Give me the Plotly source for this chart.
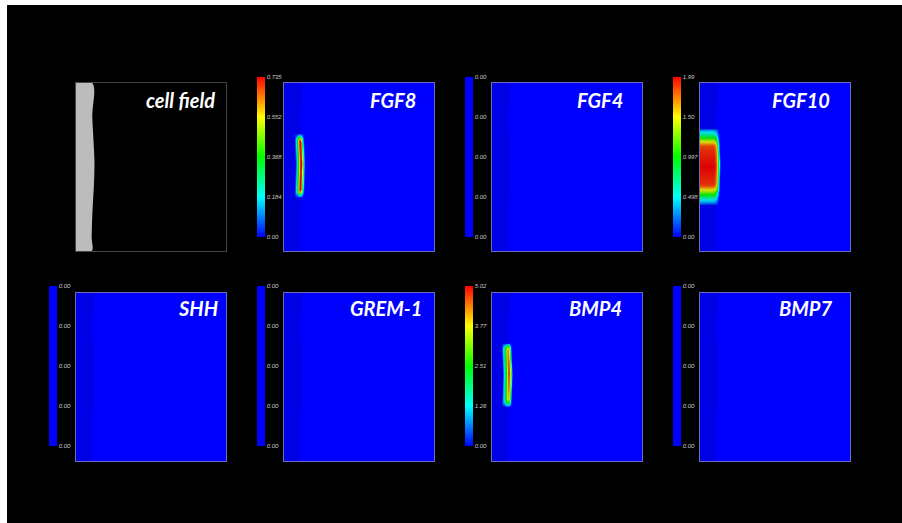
import numpy as np
import plotly.graph_objects as go

W, H = 902, 523
PW, PH = 150, 168  # data extent of each panel

# ---------------- data ----------------
panel_names = ["cell field", "FGF8", "FGF4", "FGF10", "SHH", "GREM-1", "BMP4", "BMP7"]

cb_labels = {
    "FGF8": ["0.00", "0.184", "0.368", "0.552", "0.735"],
    "FGF4": ["0.00", "0.00", "0.00", "0.00", "0.00"],
    "FGF10": ["0.00", "0.498", "0.997", "1.50", "1.99"],
    "SHH": ["0.00", "0.00", "0.00", "0.00", "0.00"],
    "GREM-1": ["0.00", "0.00", "0.00", "0.00", "0.00"],
    "BMP4": ["0.00", "1.26", "2.51", "3.77", "5.02"],
    "BMP7": ["0.00", "0.00", "0.00", "0.00", "0.00"],
}
cb_max = {"FGF8": 0.735, "FGF4": 0.0, "FGF10": 1.99, "SHH": 0.0,
          "GREM-1": 0.0, "BMP4": 5.02, "BMP7": 0.0}

# boundary of the cell region (x in panel units, y as fraction from top)
boundary_yfrac = [0.0, 0.2, 0.32, 0.48, 0.62, 0.76, 0.92, 1.0]
boundary_x = [16.3, 16.3, 17.3, 18.5, 17.8, 16.5, 15.7, 15.7]

# expression profiles: vertical (fraction from top -> relative level)
# and horizontal (depth inside boundary -> relative level)
fgf8_row_y = [0.30, 0.318, 0.333, 0.35, 0.50, 0.635, 0.652, 0.668, 0.685]
fgf8_row_v = [0.0, 0.3, 0.8, 1.0, 1.0, 1.0, 0.8, 0.3, 0.0]
fgf8_col_d = [-3, -2, -1, 0, 1, 2, 3, 4, 5, 6, 7]
fgf8_col_v = [0.0, 0.15, 0.4, 0.85, 1.0, 0.95, 0.7, 0.45, 0.3, 0.12, 0.0]

fgf10_row_y = [0.27, 0.286, 0.304, 0.327, 0.351, 0.375, 0.40, 0.50, 0.60, 0.613, 0.637, 0.667, 0.69, 0.714, 0.73]
fgf10_row_v = [0.0, 0.2, 0.3, 0.5, 0.75, 0.92, 0.95, 1.0, 0.95, 0.92, 0.75, 0.5, 0.3, 0.15, 0.0]
fgf10_col_d = [-2.5, -1.5, -0.5, 0.5, 1.5, 2.5, 4, 30]
fgf10_col_v = [0.0, 0.15, 0.4, 0.7, 0.88, 0.95, 1.0, 1.0]

bmp4_row_y = [0.30, 0.31, 0.325, 0.34, 0.40, 0.48, 0.55, 0.63, 0.65, 0.665, 0.68]
bmp4_row_v = [0.0, 0.3, 0.7, 0.85, 0.88, 0.95, 0.88, 0.8, 0.6, 0.35, 0.0]
bmp4_col_d = [-2.5, -1.5, -0.5, 0.5, 1.5, 2.5, 3.5, 4.5, 5.5, 6.5, 7.5]
bmp4_col_v = [0.0, 0.2, 0.7, 0.95, 1.0, 0.9, 0.6, 0.45, 0.35, 0.2, 0.0]

profiles = {
    "FGF8": (fgf8_row_y, fgf8_row_v, fgf8_col_d, fgf8_col_v),
    "FGF10": (fgf10_row_y, fgf10_row_v, fgf10_col_d, fgf10_col_v),
    "BMP4": (bmp4_row_y, bmp4_row_v, bmp4_col_d, bmp4_col_v),
}

# ---------------- layout geometry (pixels) ----------------
col_left = [76, 284, 492, 700]
row_top = [83, 293]
panel_w, panel_h = 150, 168
title_right_off = [9, 16, 17, 18, 6, 10, 18, 16]
title_y_off = [17, 17, 17, 17, 15, 15, 15, 15]

jet = [[0.0, "rgb(0,0,255)"], [0.25, "rgb(0,255,255)"], [0.5, "rgb(0,255,0)"],
       [0.75, "rgb(255,255,0)"], [1.0, "rgb(255,0,0)"]]
allblue = [[0.0, "rgb(0,0,255)"], [1.0, "rgb(0,0,255)"]]

fig = go.Figure()
layout = {}

xc = np.arange(PW) + 0.5
yc = np.arange(PH) + 0.5
bnd_rows = np.interp(yc / PH, boundary_yfrac, boundary_x)

poly_x = [0.0] + boundary_x + [0.0]
poly_y = [0.0] + [f * PH for f in boundary_yfrac] + [float(PH)]

for k, name in enumerate(panel_names):
    r, c = divmod(k, 4)
    left, top = col_left[c], row_top[r]
    ax = "" if k == 0 else str(k + 1)
    xa, ya = "x" + ax, "y" + ax
    x0, x1 = left / W, (left + panel_w) / W
    y1, y0 = 1 - top / H, 1 - (top + panel_h) / H
    border = "rgb(70,70,70)" if k == 0 else "rgba(120,120,200,0.9)"
    layout["xaxis" + ax] = dict(domain=[x0, x1], anchor=ya, range=[0, PW],
                                showticklabels=False, showgrid=False, zeroline=False,
                                showline=True, mirror=True, linecolor=border, linewidth=1,
                                ticks="", fixedrange=True)
    layout["yaxis" + ax] = dict(domain=[y0, y1], anchor=xa, range=[PH, 0],
                                showticklabels=False, showgrid=False, zeroline=False,
                                showline=True, mirror=True, linecolor=border, linewidth=1,
                                ticks="", fixedrange=True)

    if name == "cell field":
        fig.add_trace(go.Scatter(
            x=poly_x, y=poly_y, xaxis=xa, yaxis=ya, mode="lines", fill="toself",
            line=dict(width=0, shape="spline"), fillcolor="rgb(188,188,188)",
            hoverinfo="skip", showlegend=False))
    else:
        zmax = cb_max[name]
        cb = dict(x=(left - 27) / W, xanchor="left", xpad=0,
                  y=1 - (top - 6 - (1 if r == 1 else 0)) / H, yanchor="top", ypad=0,
                  lenmode="pixels", len=160, thicknessmode="pixels", thickness=8,
                  outlinewidth=0, ticks="",
                  tickfont=dict(family="Liberation Sans", size=6, color="rgb(200,200,200)",
                                style="italic"))
        if zmax > 0:
            ry, rv, cd, cv = profiles[name]
            rowv = np.interp(yc / PH, ry, rv)
            depth = bnd_rows[:, None] - xc[None, :]
            colv = np.interp(depth, cd, cv)
            z = np.round(zmax * rowv[:, None] * colv, 4)
            cb.update(tickvals=list(np.linspace(0, zmax, 5)), ticktext=cb_labels[name])
            fig.add_trace(go.Heatmap(
                x=xc, y=yc, z=z, xaxis=xa, yaxis=ya, zmin=0, zmax=zmax,
                colorscale=jet, colorbar=cb, hoverinfo="skip"))
        else:
            cb.update(tickvals=[0, 0.25, 0.5, 0.75, 1.0], ticktext=cb_labels[name])
            fig.add_trace(go.Heatmap(
                x=[0, PW], y=[0, PH], z=[[0, 0], [0, 0]], xaxis=xa, yaxis=ya,
                zmin=0, zmax=1, colorscale=allblue, colorbar=cb, hoverinfo="skip"))
        fig.add_trace(go.Scatter(
            x=poly_x, y=poly_y, xaxis=xa, yaxis=ya, mode="lines", fill="toself",
            line=dict(width=0, shape="spline"), fillcolor="rgba(0,0,60,0.12)",
            hoverinfo="skip", showlegend=False))

    fig.add_annotation(
        x=(left + panel_w - title_right_off[k]) / W, y=1 - (top + title_y_off[k]) / H,
        xref="paper", yref="paper", xanchor="right", yanchor="middle",
        text=name, showarrow=False,
        font=dict(family="Lato", size=20, color="white", weight="bold", style="italic"))

fig.add_shape(type="rect", xref="paper", yref="paper", x0=7 / W, x1=1, y0=0, y1=1 - 5 / H,
              fillcolor="black", line=dict(width=0), layer="below")

fig.update_layout(**layout)
fig.update_layout(width=W, height=H, margin=dict(l=0, r=0, t=0, b=0),
                  paper_bgcolor="white", plot_bgcolor="black", showlegend=False)

fig.write_html("out.html", config={"displayModeBar": False},
               post_script="document.body.style.margin='0';document.body.style.overflow='hidden';")
